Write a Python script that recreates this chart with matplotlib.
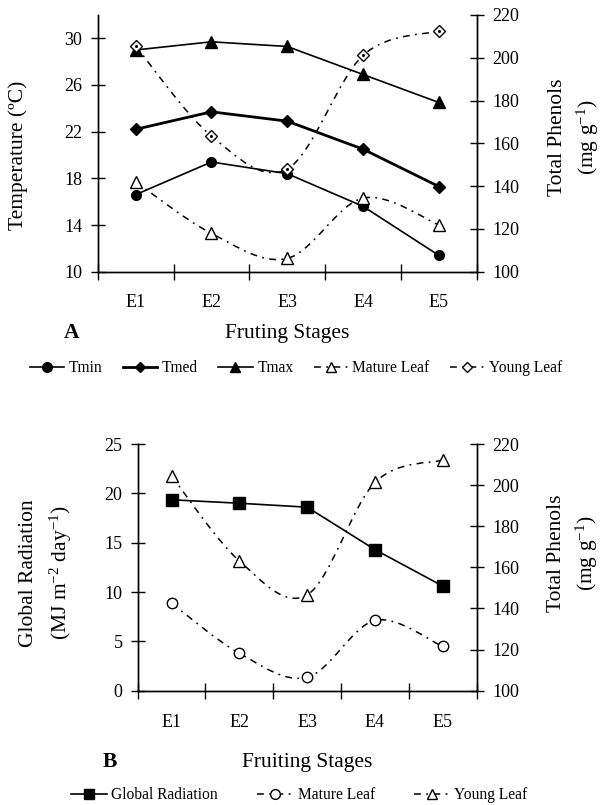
import matplotlib
matplotlib.use("Agg")
import matplotlib.pyplot as plt
from matplotlib.path import Path
from matplotlib.patches import PathPatch
from matplotlib.lines import Line2D

plt.rcParams['font.family'] = ['Liberation Serif', 'DejaVu Serif']
plt.rcParams['mathtext.fontset'] = 'custom'
plt.rcParams['mathtext.rm'] = 'Liberation Serif'
plt.rcParams['mathtext.it'] = 'Liberation Serif:italic'

# data
stages = ['E1', 'E2', 'E3', 'E4', 'E5']

tmin = [16.6, 19.4, 18.4, 15.6, 11.4]
tmed = [22.2, 23.7, 22.9, 20.5, 17.3]
tmax = [29.0, 29.7, 29.3, 26.9, 24.5]
mature_a = [142.0, 117.9, 106.2, 134.4, 121.9]
young_a = [205.5, 163.4, 148.0, 201.1, 212.5]

radiation = [19.35, 19.0, 18.6, 14.3, 10.6]
mature_b = [142.5, 118.2, 106.5, 134.2, 121.5]
young_b = [204.4, 163.1, 146.6, 201.3, 212.2]

leaf_dash = (0, (4.5, 3.5, 1.2, 3.5))
TICK_FS = 13
LABEL_FS = 15.5
LEG_FS = 11.2


# smoothed line through the points (Excel style bezier)
def smooth_curve(ax, xs, ys, **kw):
    n = len(xs)
    verts = [(xs[0], ys[0])]
    codes = [Path.MOVETO]
    for i in range(n - 1):
        a = i - 1 if i > 0 else i
        d = i + 2 if i + 2 < n else i + 1
        c1 = (xs[i] + (xs[i + 1] - xs[a]) / 6, ys[i] + (ys[i + 1] - ys[a]) / 6)
        c2 = (xs[i + 1] - (xs[d] - xs[i]) / 6, ys[i + 1] - (ys[d] - ys[i]) / 6)
        verts += [c1, c2, (xs[i + 1], ys[i + 1])]
        codes += [Path.CURVE4] * 3
    ax.add_patch(PathPatch(Path(verts, codes), fill=False, **kw))


def style_axes(ax, ax2, pad_x):
    ax.set_xlim(0.5, 5.5)
    ax.set_xticks(range(1, 6))
    ax.set_xticklabels(stages)
    ax.set_xticks([0.5, 1.5, 2.5, 3.5, 4.5, 5.5], minor=True)
    ax.tick_params(axis='x', which='major', length=0, pad=pad_x, labelsize=TICK_FS)
    ax.tick_params(axis='x', which='minor', direction='inout', length=11, width=1)
    ax.tick_params(axis='y', direction='inout', length=10, width=1, pad=6, labelsize=TICK_FS)
    ax2.tick_params(axis='y', direction='inout', length=10, width=1, pad=6, labelsize=TICK_FS)
    for a in (ax, ax2):
        a.spines['top'].set_visible(False)
        for s in ('left', 'right', 'bottom'):
            a.spines[s].set_linewidth(1)
    ax2.set_ylim(100, 220)
    ax2.set_yticks(range(100, 221, 20))


fig = plt.figure(figsize=(6.02, 8.05), dpi=100)
x = list(range(1, 6))

# ---- panel A
ax = fig.add_axes([0.1623, 0.6625, 0.6296, 0.3189])
ax2 = ax.twinx()
ax.set_ylim(10, 32)
ax.set_yticks(range(10, 31, 4))
style_axes(ax, ax2, 16)

ax.plot(x, tmin, color='black', lw=1.2, marker='o', ms=7, label='Tmin')
ax.plot(x, tmed, color='black', lw=2, marker='D', ms=6, label='Tmed')
ax.plot(x, tmax, color='black', lw=1.2, marker='^', ms=8, label='Tmax')
smooth_curve(ax2, x, mature_a, ec='black', lw=1.1, ls=leaf_dash)
smooth_curve(ax2, x, young_a, ec='black', lw=1.1, ls=leaf_dash)
ax2.plot(x, mature_a, ls='none', marker='^', ms=8.5, mfc='white', mec='black', mew=1)
ax2.plot(x, young_a, ls='none', marker='D', ms=6, mfc='white', mec='black', mew=1)
ax2.plot(x, young_a, ls='none', marker='.', ms=2.5, color='black')

ax.set_ylabel('Temperature (ºC)', fontsize=LABEL_FS)
ax.yaxis.set_label_coords(-0.21, 0.455)
ax.yaxis.label.set_va('center')
ax2.set_ylabel('Total Phenols\n(mg g$^{-1}$)', fontsize=LABEL_FS, rotation=90, linespacing=1.45)
ax2.yaxis.set_label_coords(1.258, 0.525)
ax2.yaxis.label.set_va('center')
ax.set_xlabel('Fruting Stages', fontsize=LABEL_FS)
ax.xaxis.set_label_coords(0.5, -0.239)
ax.xaxis.label.set_va('center')
ax.text(-0.068, -0.239, 'A', transform=ax.transAxes, fontsize=LABEL_FS, fontweight='bold',
        ha='center', va='center')

handles_a = [
    Line2D([], [], color='black', lw=1.2, marker='o', ms=7),
    Line2D([], [], color='black', lw=2, marker='D', ms=5.5),
    Line2D([], [], color='black', lw=1.2, marker='^', ms=7.5),
    Line2D([], [], color='black', lw=1.1, ls=leaf_dash, marker='^', ms=7.5, mfc='white'),
    Line2D([], [], color='black', lw=1.1, ls=leaf_dash, marker='D', ms=5.5, mfc='white'),
]
fig.legend(handles_a, ['Tmin', 'Tmed', 'Tmax', 'Mature Leaf', 'Young Leaf'],
           loc='center', bbox_to_anchor=(0.492, 1 - 368 / 805), ncol=5, frameon=False,
           fontsize=LEG_FS, handlelength=2.2, handletextpad=0.3, columnspacing=1.3)

# ---- panel B
bx = fig.add_axes([0.2287, 0.1420, 0.5631, 0.3064])
bx2 = bx.twinx()
bx.set_ylim(0, 25)
bx.set_yticks(range(0, 26, 5))
style_axes(bx, bx2, 17)

bx.plot(x, radiation, color='black', lw=1.2, marker='s', ms=8)
smooth_curve(bx2, x, mature_b, ec='black', lw=1.1, ls=leaf_dash)
smooth_curve(bx2, x, young_b, ec='black', lw=1.1, ls=leaf_dash)
bx2.plot(x, mature_b, ls='none', marker='o', ms=7.5, mfc='white', mec='black', mew=1)
bx2.plot(x, young_b, ls='none', marker='^', ms=8.5, mfc='white', mec='black', mew=1)

bx.set_ylabel('Global Radiation\n(MJ m$^{-2}$ day$^{-1}$)', fontsize=LABEL_FS, linespacing=1.5)
bx.yaxis.set_label_coords(-0.27, 0.477)
bx.yaxis.label.set_va('center')
bx2.set_ylabel('Total Phenols\n(mg g$^{-1}$)', fontsize=LABEL_FS, rotation=90, linespacing=1.45)
bx2.yaxis.set_label_coords(1.286, 0.558)
bx2.yaxis.label.set_va('center')
bx.set_xlabel('Fruiting Stages', fontsize=LABEL_FS)
bx.xaxis.set_label_coords(0.5, -0.29)
bx.xaxis.label.set_va('center')
bx.text(-0.082, -0.29, 'B', transform=bx.transAxes, fontsize=LABEL_FS, fontweight='bold',
        ha='center', va='center')

handles_b = [
    Line2D([], [], color='black', lw=1.2, marker='s', ms=7.5),
    Line2D([], [], color='black', lw=1.1, ls=leaf_dash, marker='o', ms=7, mfc='white'),
    Line2D([], [], color='black', lw=1.1, ls=leaf_dash, marker='^', ms=7.5, mfc='white'),
]
fig.legend(handles_b, ['Global Radiation', 'Mature Leaf', 'Young Leaf'],
           loc='center', bbox_to_anchor=(0.497, 1 - 795 / 805), ncol=3, frameon=False,
           fontsize=LEG_FS, handlelength=2.3, handletextpad=0.3, columnspacing=2.5)

fig.savefig('out.png', dpi=100)
